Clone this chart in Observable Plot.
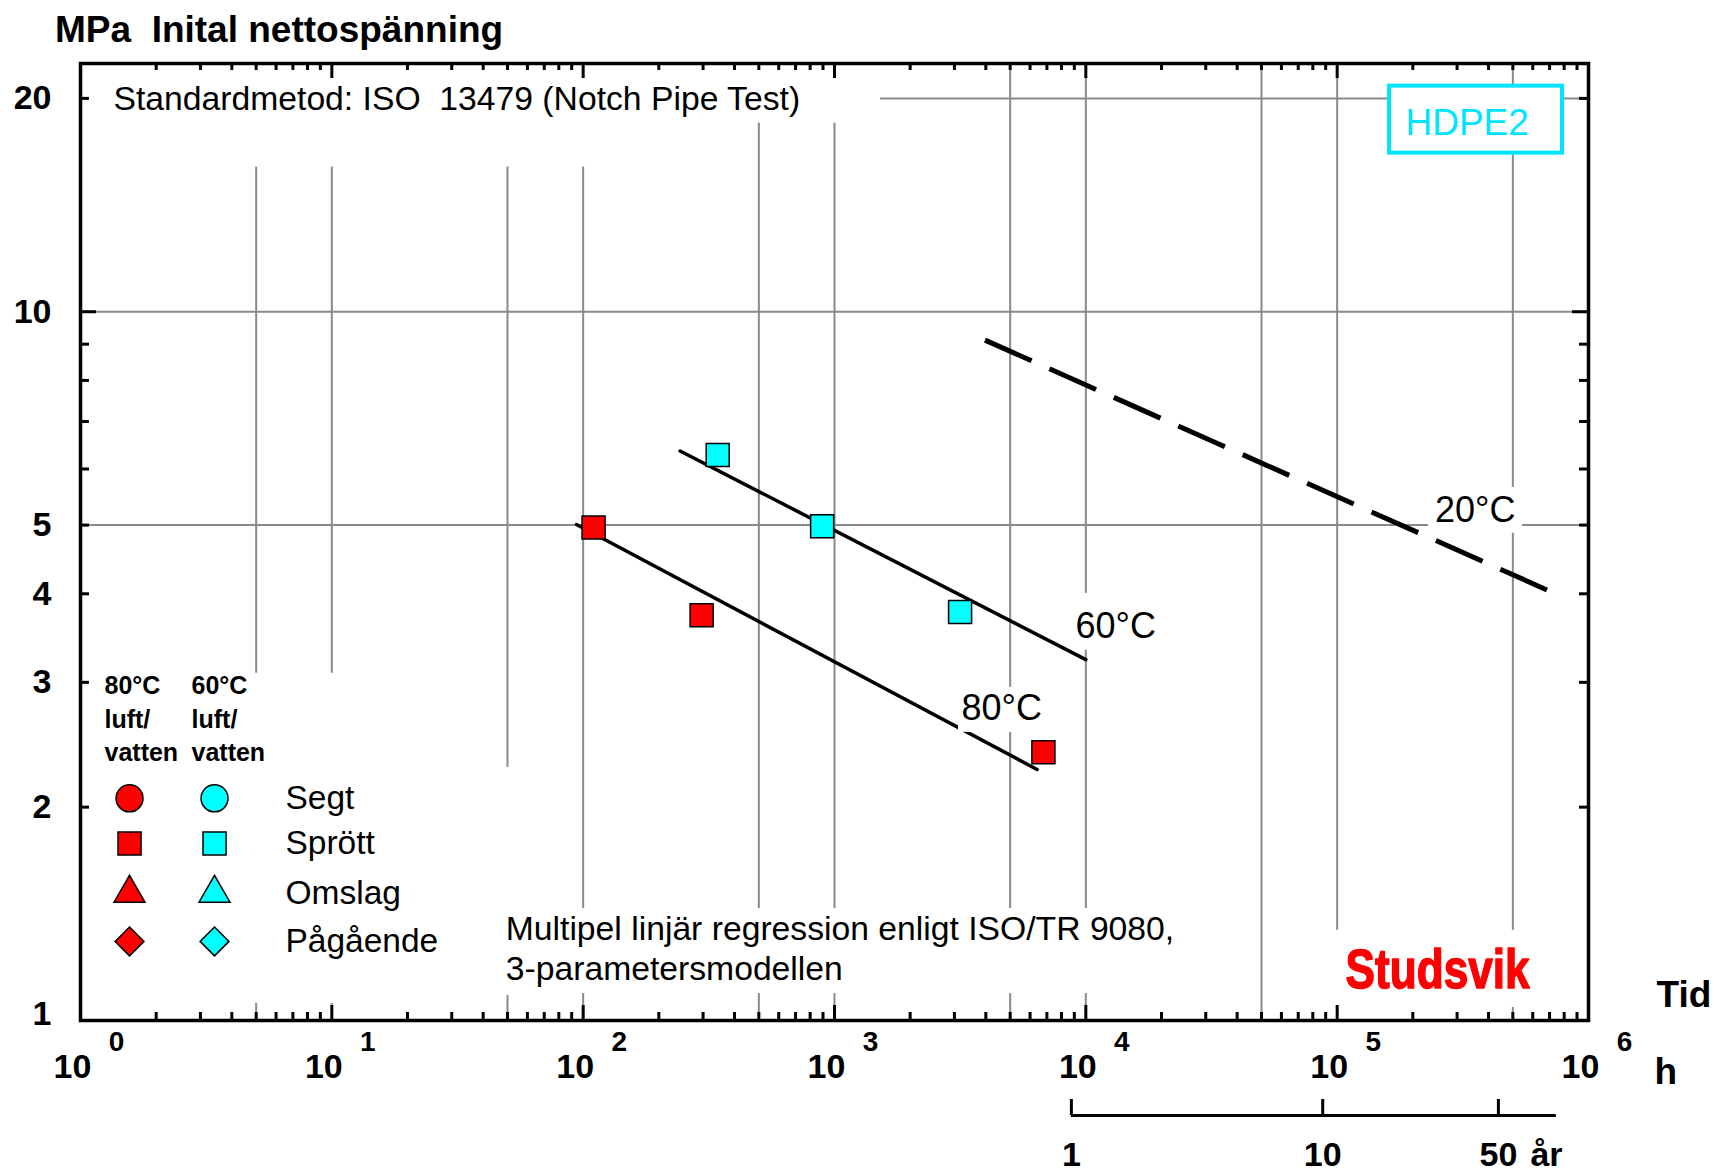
<!DOCTYPE html>
<html>
<head>
<meta charset="utf-8">
<script src="https://cdn.jsdelivr.net/npm/d3@7"></script>
<script src="https://cdn.jsdelivr.net/npm/@observablehq/plot@0.6"></script>
<style>
  html, body { margin: 0; padding: 0; background: #fff; }
  svg text { white-space: pre; }
</style>
</head>
<body>
<div id="chart"></div>
<script>
// ---------------- data ----------------
// Test results: time to failure (h) and initial net stress (MPa)
const red80Hours = [110, 296, 6780];
const red80MPa   = [4.96, 3.73, 2.39];
const cyan60Hours = [343, 893, 3160];
const cyan60MPa   = [6.28, 4.98, 3.77];
// Regression lines (ISO/TR 9080 three-parameter model)
const fit80Hours = [94, 6400];
const fit80MPa   = [5.01, 2.26];
const fit60Hours = [243, 10000];
const fit60MPa   = [6.36, 3.23];
const ext20Hours = [3970, 684000];
const ext20MPa   = [9.12, 4.05];
// Axis ticks / labels
const yTickValues = [2, 3, 4, 5, 10, 20];
const yTickLabels = ["2", "3", "4", "5", "10", "20"];
const yBottomLabel = "1";
const yMinorTicks = [2, 3, 4, 5, 6, 7, 8, 9, 20];
const yMajorTicks = [10];
const xDecades = [1, 10, 100, 1000, 10000, 100000, 1000000];
const xDecadeExponents = ["0", "1", "2", "3", "4", "5", "6"];
const xMantissas = [2, 3, 4, 5, 6, 7, 8, 9];
const xGridValues = [5, 10, 50, 100, 500, 1000, 5000, 10000, 50000, 100000, 500000];
const yGridValues = [5, 10, 20];
const yearValues = [1, 10, 50];
const yearLabels = ["1", "10", "50"];
const yearAxisEndYears = 85;
const hoursPerYear = 8760;
// Legend
const legendLabels = ["Segt", "Sprött", "Omslag", "Pågående"];
const legendSymbols = ["circle", "square", "triangle", "diamond2"];
const legendGroups = ["80°C\nluft/\nvatten", "60°C\nluft/\nvatten"];
const legendColors = ["#ff0000", "#00ffff"];
const curveLabels = ["80°C", "60°C", "20°C"];

// ---------------- layout ----------------
const W = 1714, H = 1170;
const mL = 80, mR = 126, mT = 63, mB = 150;
const xMin = 1, xMax = 1e6, yMin = 1, yMax = 22.4;
const innerW = W - mL - mR, innerH = H - mT - mB;
const xPerDec = innerW / Math.log10(xMax / xMin);
const yPerDec = innerH / Math.log10(yMax / yMin);
const xF = px => 10 ** (px / xPerDec);   // multiplicative factor for a pixel length
const yF = px => 10 ** (px / yPerDec);

const FONT = "Liberation Sans, Arial, Helvetica, sans-serif";
const GRID = "#8a8a8a";
const RED = "#ff0000", CYAN = "#00ffff";
const TXT = 33.7;   // regular annotation size
const NUM = 34;     // bold axis numbers

const pts = (xs, ys) => xs.map((x, i) => ({x, y: ys[i]}));
const minorX = xDecades.slice(0, -1).flatMap(d => xMantissas.map(m => m * d));
const innerDecades = xDecades.slice(1, -1);

// white text boxes hiding the grid (in data units)
const knockouts = [
  {x1: 1, x2: 1524, y1: 18.45, y2: yMax},        // method title
  {x1: 1, x2: 244, y1: 16.0, y2: yMax},
  {x1: 1, x2: 44.8, y1: 1.057, y2: 3.09},         // legend
  {x1: 1, x2: 67.7, y1: 1.085, y2: 2.276},
  {x1: 46.9, x2: 23800, y1: 1.0917, y2: 1.439},   // regression note
  {x1: 97600, x2: 644000, y1: 1.043, y2: 1.34}    // logo
];
const labelBoxes = [
  {x1: 3114, x2: 7105, y1: 2.55, y2: 2.951},
  {x1: 8800, x2: 20200, y1: 3.33, y2: 4.005},
  {x1: 231000, x2: 546000, y1: 4.869, y2: 5.652}
];
const curveLabelPos = [
  {x: 3203, y: 2.651}, {x: 9100, y: 3.461}, {x: 245000, y: 5.045}
];
const legendRowMPa = [2.058, 1.777, 1.512, 1.293];
const legendColHours = [1.567, 3.414];
const legendHeadHours = [1.246, 2.765];
const legendSymbolR = {circle: 13.5, square: 13, triangle: 11.5, diamond2: 13};

const marks = [];
// grid
marks.push(Plot.ruleX(xGridValues, {x: d => d, y1: yMin, y2: yMax, stroke: GRID, strokeWidth: 2}));
marks.push(Plot.ruleY(yGridValues, {y: d => d, x1: xMin, x2: xMax, stroke: GRID, strokeWidth: 2}));
marks.push(Plot.rect(knockouts, {x1: "x1", x2: "x2", y1: "y1", y2: "y2", fill: "white"}));

// regression lines
marks.push(Plot.line(pts(fit80Hours, fit80MPa), {x: "x", y: "y", stroke: "black", strokeWidth: 3.5}));
marks.push(Plot.line(pts(fit60Hours, fit60MPa), {x: "x", y: "y", stroke: "black", strokeWidth: 3.5}));
marks.push(Plot.line(pts(ext20Hours, ext20MPa), {x: "x", y: "y", stroke: "black", strokeWidth: 5, strokeDasharray: "51,19.5", strokeLinecap: "butt"}));

// label boxes + curve labels
marks.push(Plot.rect(labelBoxes, {x1: "x1", x2: "x2", y1: "y1", y2: "y2", fill: "white"}));
marks.push(Plot.text(curveLabelPos, {x: "x", y: "y", text: (d, i) => curveLabels[i], textAnchor: "start", lineAnchor: "bottom", fontSize: 36, fontFamily: FONT, fill: "black"}));

// HDPE2 box
marks.push(Plot.rect([0], {x1: 161600, x2: 788000, y1: 16.74, y2: 20.81, fill: "white", stroke: "#00e5ff", strokeWidth: 4}));
marks.push(Plot.text(["HDPE2"], {x: 187000, y: 17.75, textAnchor: "start", lineAnchor: "bottom", fontSize: 37, fontFamily: FONT, fill: "#00e5ff"}));

// data points
marks.push(Plot.dot(pts(red80Hours, red80MPa), {x: "x", y: "y", symbol: "square", r: 13, fill: RED, stroke: "black", strokeWidth: 1.5}));
marks.push(Plot.dot(pts(cyan60Hours, cyan60MPa), {x: "x", y: "y", symbol: "square", r: 13, fill: CYAN, stroke: "black", strokeWidth: 1.5}));

// texts
marks.push(Plot.text(["Standardmetod: ISO  13479 (Notch Pipe Test)"], {x: 1.353, y: 19.25, textAnchor: "start", lineAnchor: "bottom", fontSize: TXT, fontFamily: FONT, fill: "black"}));
marks.push(Plot.text(["Multipel linjär regression enligt ISO/TR 9080,\n3-parametersmodellen"], {x: 49.2, y: 1.139, textAnchor: "start", lineAnchor: "bottom", lineHeight: 1.19, fontSize: TXT, fontFamily: FONT, fill: "black"}));
marks.push(Plot.text(["Studsvik"], {x: 108000, y: 1.1096, textAnchor: "start", lineAnchor: "bottom", fontSize: 56, fontWeight: "bold", fontFamily: FONT, fill: "#ff0000", stroke: "#ff0000", strokeWidth: 1.5}));

// legend
legendGroups.forEach((g, c) => {
  marks.push(Plot.text([g], {x: legendHeadHours[c], y: 2.321, textAnchor: "start", lineAnchor: "bottom", lineHeight: 1.34, fontSize: 25, fontWeight: "bold", fontFamily: FONT, fill: "black"}));
  legendSymbols.forEach((s, i) => {
    marks.push(Plot.dot([0], {x: legendColHours[c], y: legendRowMPa[i], symbol: s, r: legendSymbolR[s], fill: legendColors[c], stroke: "black", strokeWidth: 1.5}));
  });
});
marks.push(Plot.text(legendLabels, {x: 6.54, y: (d, i) => legendRowMPa[i], text: d => d, textAnchor: "start", lineAnchor: "middle", fontSize: 33.5, fontFamily: FONT, fill: "black"}));

// ticks (inward)
marks.push(Plot.ruleX(minorX, {x: d => d, y1: yMin, y2: yMin * yF(8), stroke: "black", strokeWidth: 3}));
marks.push(Plot.ruleX(innerDecades, {x: d => d, y1: yMin, y2: yMin * yF(15), stroke: "black", strokeWidth: 3}));
marks.push(Plot.ruleX(minorX, {x: d => d, y1: yMax / yF(7), y2: yMax, stroke: "black", strokeWidth: 3}));
marks.push(Plot.ruleX(innerDecades, {x: d => d, y1: yMax / yF(15), y2: yMax, stroke: "black", strokeWidth: 3}));
marks.push(Plot.ruleY(yMinorTicks, {y: d => d, x1: xMin, x2: xMin * xF(9), stroke: "black", strokeWidth: 3}));
marks.push(Plot.ruleY(yMajorTicks, {y: d => d, x1: xMin, x2: xMin * xF(16), stroke: "black", strokeWidth: 3}));
marks.push(Plot.ruleY(yMinorTicks, {y: d => d, x1: xMax / xF(9), x2: xMax, stroke: "black", strokeWidth: 3}));
marks.push(Plot.ruleY(yMajorTicks, {y: d => d, x1: xMax / xF(16), x2: xMax, stroke: "black", strokeWidth: 3}));
marks.push(Plot.frame({stroke: "black", strokeWidth: 3.5}));

// y tick labels
marks.push(Plot.text(yTickValues, {x: xMin, y: d => d, text: (d, i) => yTickLabels[i], textAnchor: "end", lineAnchor: "middle", dx: -29, fontSize: NUM, fontWeight: "bold", fontFamily: FONT, fill: "black"}));
marks.push(Plot.text([yMin], {x: xMin, y: d => d, text: () => yBottomLabel, textAnchor: "end", lineAnchor: "middle", dx: -29, dy: -6, fontSize: NUM, fontWeight: "bold", fontFamily: FONT, fill: "black"}));
// x tick labels: 10 with superscript exponent
marks.push(Plot.text(xDecades, {x: d => d, y: yMin, text: () => "10", textAnchor: "middle", lineAnchor: "bottom", dx: -8, dy: 57, fontSize: NUM, fontWeight: "bold", fontFamily: FONT, fill: "black"}));
marks.push(Plot.text(xDecades, {x: d => d, y: yMin, text: (d, i) => xDecadeExponents[i], textAnchor: "middle", lineAnchor: "bottom", dx: 36, dy: 30, fontSize: 28, fontWeight: "bold", fontFamily: FONT, fill: "black"}));

// axis titles
marks.push(Plot.text(["MPa  Inital nettospänning"], {frameAnchor: "top-left", textAnchor: "start", lineAnchor: "bottom", dx: -25.5, dy: -21.3, fontSize: 37, fontWeight: "bold", fontFamily: FONT, fill: "black"}));
marks.push(Plot.text(["Tid"], {frameAnchor: "bottom-right", textAnchor: "start", lineAnchor: "bottom", dx: 68, dy: -13.3, fontSize: 37, fontWeight: "bold", fontFamily: FONT, fill: "black"}));
marks.push(Plot.text(["h"], {frameAnchor: "bottom-right", textAnchor: "start", lineAnchor: "bottom", dx: 66, dy: 63, fontSize: 37, fontWeight: "bold", fontFamily: FONT, fill: "black"}));

// secondary time scale in years
marks.push(Plot.ruleY([yMin], {y: d => d, x1: hoursPerYear, x2: yearAxisEndYears * hoursPerYear, dy: 95, stroke: "black", strokeWidth: 3}));
marks.push(Plot.ruleX(yearValues, {x: d => d * hoursPerYear, y1: yMin, y2: yMin * yF(16), dy: 95, stroke: "black", strokeWidth: 3}));
marks.push(Plot.text(yearValues, {x: d => d * hoursPerYear, y: yMin, text: (d, i) => yearLabels[i], textAnchor: "middle", lineAnchor: "bottom", dy: 145, fontSize: NUM, fontWeight: "bold", fontFamily: FONT, fill: "black"}));
marks.push(Plot.text(["år"], {x: 50 * hoursPerYear, y: yMin, textAnchor: "start", lineAnchor: "bottom", dx: 32, dy: 145, fontSize: NUM, fontWeight: "bold", fontFamily: FONT, fill: "black"}));

const chart = Plot.plot({
  width: W, height: H,
  marginLeft: mL, marginRight: mR, marginTop: mT, marginBottom: mB,
  x: {type: "log", domain: [xMin, xMax], axis: null},
  y: {type: "log", domain: [yMin, yMax], axis: null},
  style: {fontFamily: FONT, background: "white", color: "black", overflow: "visible"},
  marks
});
d3.select(chart).selectAll("text")
  .filter(function () { return this.textContent === "Studsvik"; })
  .attr("textLength", 184).attr("lengthAdjust", "spacingAndGlyphs");
document.getElementById("chart").appendChild(chart);
</script>
</body>
</html>
